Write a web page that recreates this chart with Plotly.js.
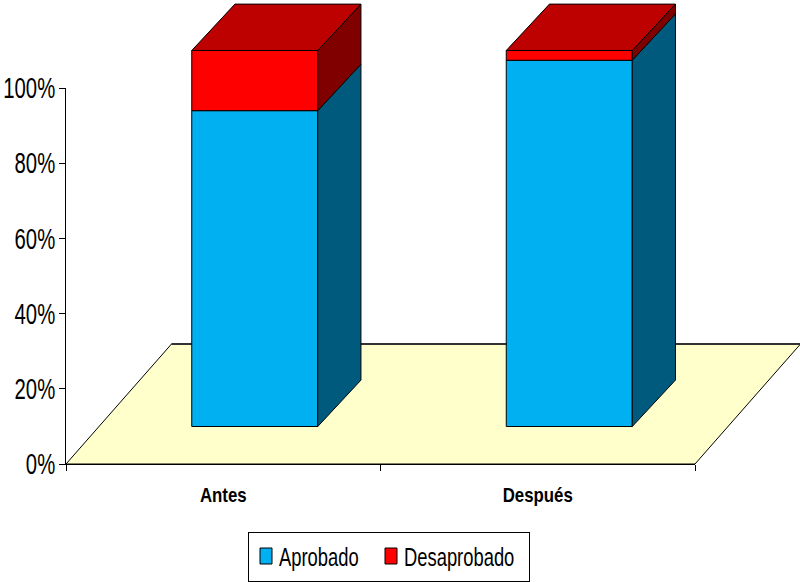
<!DOCTYPE html>
<html><head><meta charset="utf-8">
<script src="https://cdn.plot.ly/plotly-3.0.1.min.js"></script>
<style>html,body{margin:0;padding:0;background:#fff}#c{width:800px;height:582px}</style>
</head><body><div id="c"></div>
<script>
const categories = ["Antes", "Después"];
const aprobado = [84, 97.4];
const desaprobado = [16, 2.6];
const yTicks = [0, 20, 40, 60, 80, 100];
const yLabels = ["0%", "20%", "40%", "60%", "80%", "100%"];
const seriesNames = ["Aprobado", "Desaprobado"];

// axis placement on the page
const W = 800, H = 582, axL = 66, axR = 695, axT = 88, axB = 464;
const pxPerCat = (axR - axL) / categories.length, pxPerPct = (axB - axT) / 100;
const fullX = [-0.5 - axL / pxPerCat, -0.5 + (W - axL) / pxPerCat];
const fullY = [(axB - H) / pxPerPct, axB / pxPerPct];

// 3D projection, in axis units
const barW = 126 / pxPerCat, barDx = 31.5 / pxPerCat, barBase = 37.5 / pxPerPct;
const depthX = 43.2 / pxPerCat, depthY = 46.4 / pxPerPct;
const floorX = 105.5 / pxPerCat, floorY = 120 / pxPerPct;
const FONT = '"Liberation Sans",Arial,sans-serif';

const xs = categories.map((_, i) => i + barDx);
const marks = {xaxis: 'x3', yaxis: 'y3'};
function poly(px, py, fill, axes) {
  return Object.assign({type: 'scatter', mode: 'lines', x: px.concat(px[0]), y: py.concat(py[0]), fill: 'toself',
    fillcolor: fill, line: {color: '#000', width: 1}, showlegend: false, hoverinfo: 'skip'}, axes || marks);
}
const floorAxes = {xaxis: 'x2', yaxis: 'y2'};
const traces = [];
// keeps the visible axes alive
traces.push({type: 'scatter', mode: 'none', x: categories.map((_, i) => i), y: categories.map(() => 0), showlegend: false, hoverinfo: 'skip'});
traces.push(poly([-0.5, 1.5, 1.5 + floorX, -0.5 + floorX], [0, 0, floorY, floorY], '#FFFFCC', floorAxes));
traces.push({type: 'scatter', mode: 'lines', x: [-0.5 + floorX, 1.5 + floorX], y: [floorY, floorY], line: {color: '#333', width: 2}, showlegend: false, hoverinfo: 'skip', ...floorAxes});
traces.push({type: 'bar', name: seriesNames[0], x: xs, y: aprobado, base: aprobado.map(() => barBase), width: barW,
  marker: {color: '#00B0F0', line: {color: '#000', width: 1}}, hoverinfo: 'skip', ...marks});
traces.push({type: 'bar', name: seriesNames[1], x: xs, y: desaprobado, base: aprobado.map(v => barBase + v), width: barW,
  marker: {color: '#FF0000', line: {color: '#000', width: 1}}, hoverinfo: 'skip', ...marks});
categories.forEach((_, i) => {
  const r = xs[i] + barW / 2, l = xs[i] - barW / 2;
  const y0 = barBase, y1 = barBase + aprobado[i], y2 = y1 + desaprobado[i];
  traces.push(poly([r, r + depthX, r + depthX, r], [y0, y0 + depthY, y1 + depthY, y1], '#005A7D'));
  traces.push(poly([r, r + depthX, r + depthX, r], [y1, y1 + depthY, y2 + depthY, y2], '#800000'));
  traces.push(poly([l, r, r + depthX, l + depthX], [y2, y2, y2 + depthY, y2 + depthY], '#BD0000'));
});

const hidden = {visible: false, fixedrange: true};
const layout = {
  width: W, height: H, autosize: false, showlegend: true,
  paper_bgcolor: '#fff', plot_bgcolor: 'rgba(0,0,0,0)',
  margin: {l: 0, r: 0, t: 0, b: 0, pad: 0},
  barmode: 'overlay',
  xaxis: {domain: [axL / W, axR / W], anchor: 'y', range: [-0.5, 1.5], tickmode: 'array', tickvals: categories.map((_, i) => i), ticktext: categories,
    ticks: '', showgrid: false, zeroline: false, showline: true, linecolor: '#000', linewidth: 1,
    ticklabelstandoff: 12, tickfont: {family: FONT, size: 21, color: '#000', weight: 'bold'},
    minor: {tickmode: 'array', tickvals: [-0.5, 0.5, 1.5], ticks: 'outside', ticklen: 6, tickcolor: '#000', tickwidth: 1, showgrid: false}},
  yaxis: {domain: [(H - axB) / H, (H - axT) / H], anchor: 'x', range: [0, 100], tickmode: 'array', tickvals: yTicks, ticktext: yLabels, ticks: 'outside', ticklen: 6,
    ticklabelstandoff: -2,
    tickcolor: '#000', showgrid: false, zeroline: false, showline: true, linecolor: '#000', linewidth: 1,
    tickfont: {family: FONT, size: 29, color: '#000'}},
  xaxis2: {domain: [0, 1], anchor: 'y2', range: fullX, ...hidden},
  yaxis2: {domain: [0, 1], anchor: 'x2', range: fullY, ...hidden},
  xaxis3: {domain: [0, 1], anchor: 'y3', range: fullX, ...hidden},
  yaxis3: {domain: [0, 1], anchor: 'x3', range: fullY, ...hidden},
  legend: {orientation: 'h', x: 247.5 / W, y: 1 - 531.5 / H, xanchor: 'left', yanchor: 'top',
    entrywidthmode: 'pixels', entrywidth: 85, itemwidth: 30,
    bgcolor: '#fff', bordercolor: '#000', borderwidth: 1, font: {family: FONT, size: 25, color: '#000'}}
};
// Reference type is horizontally condensed; no narrow face is installed.
function condense(sel, factor) {
  document.querySelectorAll(sel).forEach(t => {
    t.setAttribute('textLength', t.getComputedTextLength() * factor);
    t.setAttribute('lengthAdjust', 'spacingAndGlyphs');
  });
}
function tidyLegend() {
  const box = document.querySelector('.legend rect.bg');
  box.setAttribute('width', 281); box.setAttribute('height', 49);
  const scroll = document.querySelector('.legend .scrollbox');
  if (scroll) scroll.removeAttribute('clip-path');
  document.querySelectorAll('.legend .traces').forEach((g, i) => {
    g.setAttribute('transform', `translate(${-1.5 + 125 * i},24.5)`);
    g.querySelector('.legendtext').setAttribute('x', 33);
    g.querySelectorAll('.legendpoints path').forEach(p => p.setAttribute('d', 'M6,8H-6V-8H6Z'));
  });
}
Plotly.newPlot('c', traces, layout, {displayModeBar: false, staticPlot: true}).then(() => {
  condense('.ytick text', 0.70);
  condense('.xtick text', 0.80);
  condense('.legend .legendtext', 0.735);
  tidyLegend();
});
</script></body></html>
